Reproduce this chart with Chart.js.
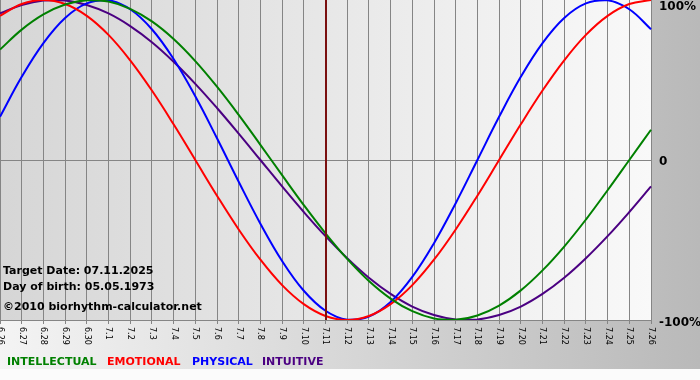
<!DOCTYPE html>
<html>
<head>
<meta charset="utf-8">
<script src="https://cdn.jsdelivr.net/npm/chart.js@4"></script>
<style>
html,body{margin:0;padding:0;background:#fff;}
#wrap{width:700px;height:380px;}
</style>
</head>
<body>
<div id="wrap"><canvas id="c" width="700" height="380"></canvas></div>
<script>
const days = ['6.26','6.27','6.28','6.29','6.30','7.1','7.2','7.3','7.4','7.5','7.6','7.7','7.8','7.9','7.10','7.11','7.12','7.13','7.14','7.15','7.16','7.17','7.18','7.19','7.20','7.21','7.22','7.23','7.24','7.25','7.26'];
const intellectual = [69.0,81.5,91.0,97.2,99.9,99.0,94.5,86.6,75.6,61.8,45.8,28.2,9.5,-9.5,-28.2,-45.8,-61.8,-75.6,-86.6,-94.5,-99.0,-99.9,-97.2,-91.0,-81.5,-69.0,-54.1,-37.2,-18.9,0,18.9];
const emotional = [90.1,97.5,100,97.5,90.1,78.2,62.3,43.4,22.3,0,-22.3,-43.4,-62.3,-78.2,-90.1,-97.5,-100,-97.5,-90.1,-78.2,-62.3,-43.4,-22.3,0,22.3,43.4,62.3,78.2,90.1,97.5,100];
const physical = [27.0,52.0,73.1,88.8,97.9,99.8,94.2,81.7,63.1,39.8,13.6,-13.6,-39.8,-63.1,-81.7,-94.2,-99.8,-97.9,-88.8,-73.1,-52.0,-27.0,0,27.0,52.0,73.1,88.8,97.9,99.8,94.2,81.7];
const intuitive = [91.6,96.9,99.7,99.7,96.9,91.6,83.7,73.6,61.4,47.6,32.5,16.5,0,-16.5,-32.5,-47.6,-61.4,-73.6,-83.7,-91.6,-96.9,-99.7,-99.7,-96.9,-91.6,-83.7,-73.6,-61.4,-47.6,-32.5,-16.5];
const seriesNames = ['INTELLECTUAL','EMOTIONAL','PHYSICAL','INTUITIVE'];
const seriesColors = ['#008000','#ff0000','#0000ff','#4b0082'];
const yTickValues = [100, 0, -100];
const yTickLabels = ['100%', '0', '-100%'];
const targetDay = '7.11';
const infoLines = ['Target Date: 07.11.2025', 'Day of birth: 05.05.1973', '\u00A92010 biorhythm-calculator.net'];

const decor = {
  id: 'decor',
  beforeDraw(chart) {
    const ctx = chart.ctx, W = chart.width, H = chart.height, a = chart.chartArea;
    ctx.save();
    let g = ctx.createLinearGradient(0, 0, W, 0);
    g.addColorStop(0, '#f4f4f4');
    g.addColorStop(1, '#b9b9b9');
    ctx.fillStyle = g;
    ctx.fillRect(0, 0, W, H);
    ctx.fillStyle = '#fbfbfb';
    ctx.fillRect(0, 369, W, H - 369);
    g = ctx.createLinearGradient(a.left, 0, a.right, 0);
    g.addColorStop(0, '#d6d6d6');
    g.addColorStop(1, '#f9f9f9');
    ctx.fillStyle = g;
    ctx.fillRect(a.left, a.top, a.right - a.left, a.bottom - a.top);
    ctx.restore();
  },
  beforeDatasetsDraw(chart) {
    const ctx = chart.ctx;
    ctx.save();
    ctx.fillStyle = '#000';
    ctx.font = 'bold 11px "DejaVu Sans"';
    ctx.textBaseline = 'middle';
    ctx.textAlign = 'left';
    ctx.fillText(infoLines[0], 3, 271);
    ctx.fillText(infoLines[1], 3, 287);
    ctx.fillText(infoLines[2], 3, 307);
    ctx.restore();
  },
  afterDatasetsDraw(chart) {
    const ctx = chart.ctx, a = chart.chartArea;
    const xs = chart.scales.x, ys = chart.scales.y;
    ctx.save();
    const tx = Math.round(xs.getPixelForValue(days.indexOf(targetDay)));
    ctx.strokeStyle = '#7a1010';
    ctx.lineWidth = 2;
    ctx.beginPath();
    ctx.moveTo(tx, a.top);
    ctx.lineTo(tx, a.bottom);
    ctx.stroke();
    ctx.fillStyle = '#000';
    ctx.font = '8px "DejaVu Sans"';
    ctx.textAlign = 'left';
    ctx.textBaseline = 'middle';
    days.forEach((d, i) => {
      const x = xs.getPixelForValue(i);
      ctx.save();
      ctx.translate(x, a.bottom + 7);
      ctx.rotate(Math.PI / 2);
      ctx.fillText(d, 0, 0);
      ctx.restore();
    });
    ctx.font = 'bold 12px "DejaVu Sans"';
    ctx.textBaseline = 'middle';
    yTickValues.forEach((v, i) => {
      let y = ys.getPixelForValue(v) + 2;
      if (v < 0) y += 1;
      if (y < 7) y = 7;
      ctx.fillText(yTickLabels[i], a.right + 8, y);
    });
    ctx.font = 'bold 11px "DejaVu Sans"';
    const lx = [7, 107, 192, 262];
    seriesNames.forEach((n, i) => {
      ctx.fillStyle = seriesColors[i];
      ctx.fillText(n, lx[i], 362);
    });
    ctx.restore();
  }
};

const mk = (label, data, color) => ({
  label, data, borderColor: color, backgroundColor: color,
  borderWidth: 2, pointRadius: 0, tension: 0.4, fill: false
});

new Chart(document.getElementById('c'), {
  type: 'line',
  data: {
    labels: days,
    datasets: [
      mk(seriesNames[0], intellectual, seriesColors[0]),
      mk(seriesNames[1], emotional, seriesColors[1]),
      mk(seriesNames[2], physical, seriesColors[2]),
      mk(seriesNames[3], intuitive, seriesColors[3])
    ]
  },
  options: {
    responsive: false,
    devicePixelRatio: 1,
    animation: false,
    layout: { padding: { top: 0, left: 0, right: 49, bottom: 56 } },
    plugins: { legend: { display: false }, tooltip: { enabled: false } },
    scales: {
      x: {
        offset: false,
        ticks: { display: false },
        grid: { color: '#858585', lineWidth: 1, drawTicks: true, tickLength: 4, tickColor: '#858585' },
        border: { color: '#858585', width: 1 }
      },
      y: {
        min: -100, max: 100,
        position: 'right',
        ticks: { display: false, stepSize: 100 },
        grid: { drawTicks: false, color: (c) => c.tick && c.tick.value === 0 ? '#858585' : 'rgba(0,0,0,0)' },
        border: { display: false }
      }
    }
  },
  plugins: [decor]
});
</script>
</body>
</html>
